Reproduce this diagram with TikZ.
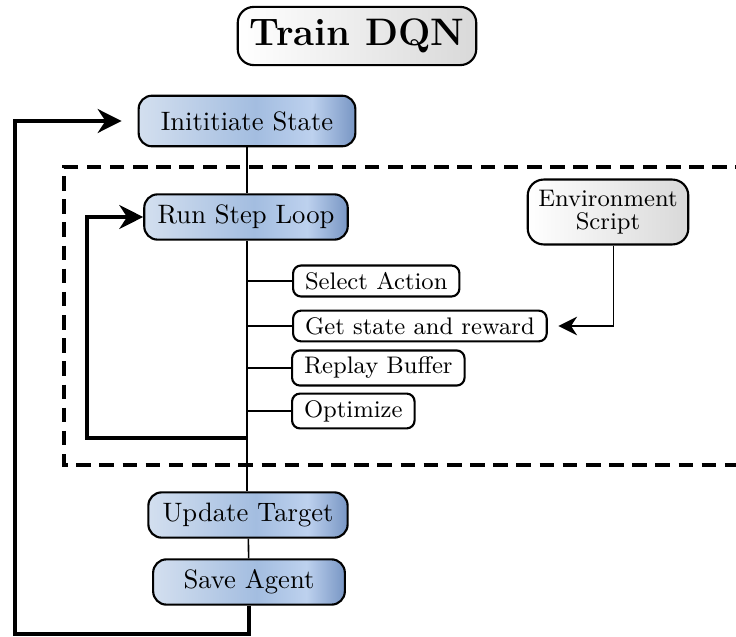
\documentclass[tikz,border=0pt]{standalone}
\usetikzlibrary{arrows, arrows.meta}
\usetikzlibrary{positioning}
\usepackage{xcolor}

\definecolor{stepblueA}{HTML}{D3DFEF}
\definecolor{stepblueB}{HTML}{A3BDE0}
\definecolor{stepblueC}{HTML}{BDD1EE}
\definecolor{stepblueD}{HTML}{7896C4}
\pgfdeclarehorizontalshading{stepblue}{100bp}{color(0bp)=(stepblueA); color(25bp)=(stepblueA); color(52bp)=(stepblueB); color(65bp)=(stepblueC); color(75bp)=(stepblueD); color(100bp)=(stepblueD)}

\begin{document}
\begin{tikzpicture}[x=0.0132cm,y=-0.0132cm,
	mainbox/.style={draw,thick,rounded corners=5pt,shading=stepblue,minimum height=17pt,minimum width=2.63cm,inner xsep=5pt},
	subbox/.style={draw,thick,rounded corners=3pt,fill=white,font=\small,inner xsep=4.5pt,inner ysep=2.5pt,anchor=west},
	graybox/.style={draw,thick,rounded corners=6pt,left color=white,right color=gray!30},
	loopline/.style={very thick,-{Stealth[length=9pt,width=9pt]}}
]
\useasboundingbox (0,0) rectangle (736,637);

% dashed frame round the step loop
\draw[very thick,dash pattern=on 5.5pt off 3.2pt] (750,167) -- (64,167) -- (64,465) -- (750,465);

\node[graybox,font=\Large\bfseries,inner sep=4.5pt] (title) at (357,36) {Train DQN};

\node[mainbox,minimum width=2.86cm,minimum height=19pt] (init) at (247,121) {Inititiate State};
\node[mainbox] (run) at (246,217) {Run Step Loop};
\node[mainbox] (update) at (248,515) {Update Target};
\node[mainbox,minimum width=2.53cm] (save) at (249,582) {Save Agent};

\node[graybox,font=\fontsize{9}{8.5}\selectfont,align=center,inner sep=4pt,minimum width=2.1cm,minimum height=0.76cm] (env) at (608,212) {Environment\\Script};

\node[subbox] (select) at (292,281) {Select Action};
\node[subbox] (getstate) at (292,326) {Get state and reward};
\node[subbox] (replay) at (291,368) {Replay Buffer};
\node[subbox] (optimize) at (291,411) {Optimize};

% trunk
\draw[semithick] (init.south -| 247,0) -- (run.north -| 247,0);
\draw[semithick] (run.south -| 247,0) -- (update.north -| 247,0);
\draw[semithick] (update) -- (save);
\foreach \n in {select,getstate,replay,optimize}
	\draw[semithick] (\n.west -| 247,0) -- (\n.west);

% loops
\coordinate (inner) at (247,438);
\draw[loopline] (inner) -- ++(-160,0) |- (run.west);
\draw[loopline,shorten >=6pt] (save.south) |- (15,634) |- (init.west);

\draw[semithick,-{Stealth[length=7pt,width=7pt]}] ([xshift=2pt]env.south) |- ([xshift=4pt]getstate.east);
\end{tikzpicture}
\end{document}
